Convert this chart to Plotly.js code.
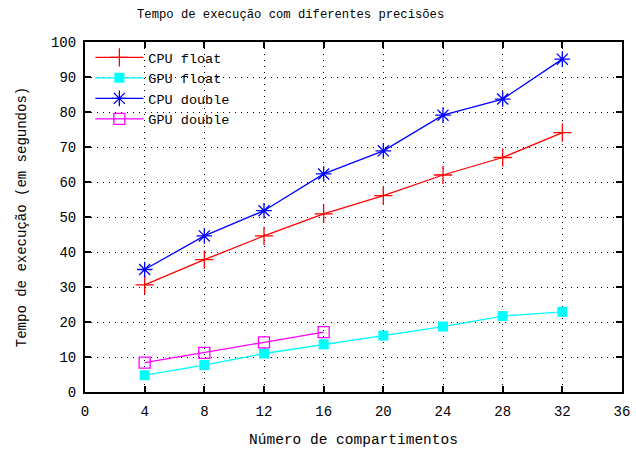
<!DOCTYPE html>
<html><head><meta charset="utf-8">
<script src="https://cdn.plot.ly/plotly-3.0.1.min.js"></script>
<style>html,body{margin:0;padding:0;background:#fff}</style>
</head><body><div id="chart" style="width:636px;height:452px"></div>
<script>
const compartimentos = [4, 8, 12, 16, 20, 24, 28, 32];
const cpuFloat  = [30.6, 37.8, 44.6, 50.9, 56.1, 62.0, 67.0, 74.1];
const gpuFloat  = [4.8, 7.7, 11.0, 13.6, 16.1, 18.7, 21.7, 22.9];
const cpuDouble = [35.0, 44.6, 51.8, 62.3, 68.9, 79.1, 83.7, 95.1];
const compDouble = [4, 8, 12, 16];
const gpuDouble = [8.4, 11.2, 14.2, 17.1];
const xTicks = [0, 4, 8, 12, 16, 20, 24, 28, 32, 36];
const yTicks = [0, 10, 20, 30, 40, 50, 60, 70, 80, 90, 100];

const mono = "Liberation Mono";
const traces = [
  {x: compartimentos, y: cpuFloat, name: "CPU float", mode: "lines+markers",
   line: {color: "#ff0000", width: 1.3},
   marker: {symbol: "cross-thin-open", size: 13, color: "#ff0000", line: {color: "#ff0000", width: 1.3}}},
  {x: compartimentos, y: gpuFloat, name: "GPU float", mode: "lines+markers",
   line: {color: "#00ffff", width: 1.3},
   marker: {symbol: "square", size: 10, color: "#00ffff"}},
  {x: compartimentos, y: cpuDouble, name: "CPU double", mode: "lines+markers",
   line: {color: "#0000ff", width: 1.3},
   marker: {symbol: "asterisk-open", size: 13, color: "#0000ff", line: {color: "#0000ff", width: 1.3}}},
  {x: compDouble, y: gpuDouble, name: "GPU double", mode: "lines+markers",
   line: {color: "#ff00ff", width: 1.3},
   marker: {symbol: "square-open", size: 11, color: "#ff00ff", line: {color: "#ff00ff", width: 1.3}}}
];

const axisCommon = {
  showline: true, linecolor: "#000", linewidth: 2, mirror: "ticks",
  ticks: "inside", ticklen: 6, tickwidth: 2, tickcolor: "#000",
  showgrid: true, gridcolor: "#000", gridwidth: 1, griddash: "1px,5px",
  zeroline: false, tickfont: {family: mono, size: 14, color: "#000"}
};

const layout = {
  width: 636, height: 452,
  margin: {l: 85, r: 14, t: 42, b: 60},
  paper_bgcolor: "#fff", plot_bgcolor: "#fff",
  title: {text: "Tempo de execução com diferentes precisões", font: {family: mono, size: 12.2, color: "#000"},
          x: 0.457, xanchor: "center", y: 0.969, yanchor: "middle"},
  xaxis: Object.assign({}, axisCommon, {range: [0, 36], tickvals: xTicks, ticktext: xTicks.map(String),
    ticklabelstandoff: 5,
    title: {text: "Número de compartimentos", font: {family: mono, size: 14.5, color: "#000"}, standoff: 15}}),
  yaxis: Object.assign({}, axisCommon, {range: [0, 100], tickvals: yTicks, ticktext: yTicks.map(String),
    ticklabelstandoff: 4,
    title: {text: "Tempo de execução (em segundos)", font: {family: mono, size: 14, color: "#000"}, standoff: 21}}),
  showlegend: true,
  legend: {x: 0.01, y: 1.0, xanchor: "left", yanchor: "top", bgcolor: "rgba(255,255,255,0)",
           font: {family: mono, size: 13.5, color: "#000"}, tracegroupgap: 0, itemwidth: 48}
};

Plotly.newPlot("chart", traces, layout, {displayModeBar: false, staticPlot: true});
</script></body></html>
